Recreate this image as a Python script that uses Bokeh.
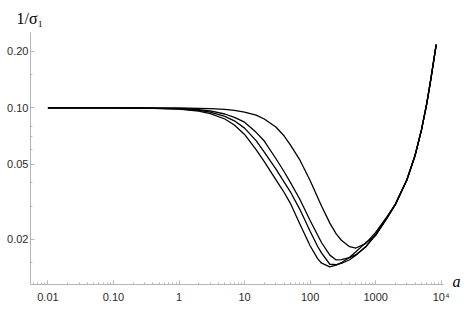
from bokeh.plotting import figure
from bokeh.models import FixedTicker, Label
from bokeh.embed import file_html
from bokeh.resources import INLINE

# sampled values of a (shared by all curves)
a_vals = [0.01, 0.1, 0.3, 1, 2, 3, 5, 7, 10, 15, 20, 30, 40, 50, 70, 100, 130, 150,
          200, 250, 300, 400, 500, 700, 1000, 1500, 2000, 3000, 4000, 5000, 6000,
          7000, 8000, 8400]

# 1/sigma_1 for the four curves (top curve first)
curve_1 = [0.1, 0.1, 0.1, 0.0998, 0.0994, 0.0990, 0.0981, 0.0968, 0.0949, 0.0915,
           0.0872, 0.0791, 0.0710, 0.0636, 0.0527, 0.0411, 0.0335, 0.0300, 0.0244,
           0.0214, 0.0198, 0.0183, 0.0180, 0.0190, 0.0218, 0.0265, 0.0308, 0.0415,
           0.0560, 0.0763, 0.1046, 0.1443, 0.195, 0.2164]
curve_2 = [0.1, 0.1, 0.0997, 0.0990, 0.0977, 0.0962, 0.0927, 0.0890, 0.0839, 0.0741,
           0.0666, 0.0538, 0.0459, 0.0402, 0.0326, 0.0252, 0.0211, 0.0192, 0.0165,
           0.01556, 0.0156, 0.0160, 0.0166, 0.01815, 0.0213, 0.0262, 0.0307, 0.0415,
           0.0560, 0.0763, 0.1046, 0.1443, 0.195, 0.2164]
curve_3 = [0.1, 0.1, 0.0996, 0.0987, 0.0970, 0.0949, 0.0901, 0.0853, 0.0780, 0.0669,
           0.0582, 0.0474, 0.0404, 0.0358, 0.0288, 0.0221, 0.0184, 0.0169, 0.01476,
           0.01468, 0.0149, 0.0156, 0.01648, 0.01827, 0.0211, 0.0261, 0.0307, 0.0415,
           0.0560, 0.0763, 0.1046, 0.1443, 0.195, 0.2164]
curve_4 = [0.1, 0.1, 0.0996, 0.0984, 0.0961, 0.0932, 0.0872, 0.0811, 0.0722, 0.0599,
           0.0518, 0.0416, 0.0356, 0.0311, 0.0241, 0.0185, 0.0158, 0.01495, 0.01430,
           0.01460, 0.01504, 0.01608, 0.01719, 0.01917, 0.0210, 0.0260, 0.0307, 0.0415,
           0.0560, 0.0763, 0.1046, 0.1443, 0.195, 0.2164]
curves = [curve_1, curve_2, curve_3, curve_4]

# ticks
x_major = [0.01, 0.1, 1, 10, 100, 1000, 10000]
x_labels = ["0.01", "0.10", "1", "10", "100", "1000", "10\u2074"]
y_major = [0.02, 0.05, 0.1, 0.2]
y_labels = ["0.02", "0.05", "0.10", "0.20"]
y_minor = [0.015, 0.03, 0.04, 0.06, 0.07, 0.08, 0.15]

X_RANGE = (0.005424, 10839)
Y_RANGE = (0.011522, 0.2512)

x_minor = [k * 10.0 ** d for d in range(-3, 4) for k in range(2, 10)
           if X_RANGE[0] < k * 10.0 ** d < X_RANGE[1]]

p = figure(width=468, height=305, x_axis_type="log", y_axis_type="log",
           x_range=X_RANGE, y_range=Y_RANGE,
           output_backend="svg", toolbar_location=None,
           title="1/\u03c3\u2081",
           min_border_left=30, min_border_right=25, min_border_top=32,
           min_border_bottom=19)
p.outline_line_color = None
p.grid.visible = False
p.background_fill_color = "white"
p.border_fill_color = "white"

# y-axis name placed above the axis
p.title.align = "left"
p.title.offset = -14
p.title.text_font = "Liberation Serif"
p.title.text_font_style = "normal"
p.title.text_font_size = "16px"
p.title.text_color = "black"
p.title.standoff = 12

axis_col = "#b5b5b5"
for ax in (p.xaxis[0], p.yaxis[0]):
    ax.axis_line_color = axis_col
    ax.major_tick_line_color = axis_col
    ax.minor_tick_line_color = axis_col
    ax.major_tick_in = 4
    ax.major_tick_out = 0
    ax.minor_tick_in = 2
    ax.minor_tick_out = 0
    ax.major_label_text_font = "Liberation Sans"
    ax.major_label_text_font_size = "11px"
    ax.major_label_text_color = "#2b2b2b"

p.xaxis.ticker = FixedTicker(ticks=x_major, minor_ticks=x_minor)
p.xaxis.major_label_overrides = dict(zip(x_major, x_labels))
p.xaxis.major_label_standoff = 6
p.yaxis.ticker = FixedTicker(ticks=y_major, minor_ticks=y_minor)
p.yaxis.major_label_overrides = dict(zip(y_major, y_labels))
p.yaxis.major_label_standoff = 2

for c in curves:
    p.line(a_vals, c, line_color="black", line_width=1.3)

# x-axis name at the right end of the axis
p.add_layout(Label(x=9, y=3, x_units="screen", y_units="screen", text="a",
                   text_font="Liberation Serif", text_font_style="italic",
                   text_font_size="16px", text_baseline="alphabetic",
                   text_align="left", text_color="black"),
             "right")

open("out.html", "w").write(file_html(p, INLINE))
